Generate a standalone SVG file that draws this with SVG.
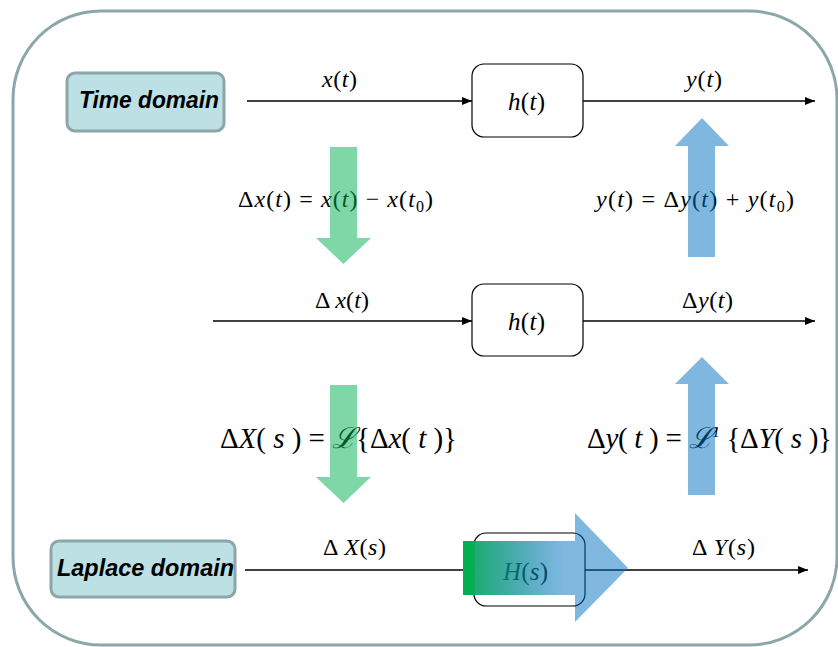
<svg xmlns="http://www.w3.org/2000/svg" width="838" height="647" viewBox="0 0 838 647">
<style>
.lbl{font-family:"Liberation Sans",Arial,sans-serif;font-weight:bold;font-style:italic;fill:#000}
.m{font-family:"Liberation Serif","Times New Roman",Times,serif;fill:#000}
.i{font-style:italic}
.conn{stroke:#000;stroke-width:1.3;fill:none}
.dom{fill:#bce0e3;stroke:#8ca6aa;stroke-width:3}
.blk{fill:#fff;stroke:#000;stroke-width:1.2}
.g{fill:#00b050;fill-opacity:0.5}
.b{fill:#0070c0;fill-opacity:0.5}
</style>
<defs>
<marker id="ah" markerUnits="userSpaceOnUse" markerWidth="10" markerHeight="8" refX="10" refY="4" orient="auto">
<path d="M0,0 L10,4 L0,8 z" fill="#000"/>
</marker>
<linearGradient id="grad" x1="463" y1="0" x2="628" y2="0" gradientUnits="userSpaceOnUse">
<stop offset="0" stop-color="#00b050" stop-opacity="1"/>
<stop offset="0.06" stop-color="#00b050" stop-opacity="1"/>
<stop offset="0.065" stop-color="#10a868" stop-opacity="0.95"/>
<stop offset="0.6" stop-color="#0070c0" stop-opacity="0.5"/>
<stop offset="1" stop-color="#0070c0" stop-opacity="0.5"/>
</linearGradient>
</defs>
<rect x="0" y="0" width="838" height="647" fill="#fff"/>
<rect id="frame" x="13" y="11" width="824" height="634" rx="88" ry="88" fill="none" stroke="#8ca6aa" stroke-width="3"/>

<g id="time-domain">
<rect class="dom" x="67" y="73" width="157" height="58" rx="8"/>
<text class="lbl" x="79" y="108" font-size="23" textLength="140" lengthAdjust="spacingAndGlyphs">Time domain</text>
</g>
<g id="laplace-domain">
<rect class="dom" x="51" y="541" width="184" height="56" rx="8"/>
<text class="lbl" x="57" y="576" font-size="23" textLength="177" lengthAdjust="spacingAndGlyphs">Laplace domain</text>
</g>

<g id="h1">
<rect class="blk" x="472" y="64" width="111" height="73" rx="12"/>
<text class="m" x="508" y="110" font-size="25" textLength="37"><tspan class="i">h</tspan>(<tspan class="i">t</tspan>)</text>
</g>
<g id="h2">
<rect class="blk" x="472" y="284" width="111" height="72" rx="12"/>
<text class="m" x="508" y="330" font-size="25" textLength="37"><tspan class="i">h</tspan>(<tspan class="i">t</tspan>)</text>
</g>
<g id="H3">
<rect class="blk" x="474" y="533" width="111" height="73" rx="12"/>
<text class="m" x="503" y="580" font-size="25" textLength="45"><tspan class="i">H</tspan>(<tspan class="i">s</tspan>)</text>
</g>

<g id="connectors">
<line class="conn" x1="247" y1="101" x2="472" y2="101" marker-end="url(#ah)"/>
<line class="conn" x1="583" y1="101" x2="815" y2="101" marker-end="url(#ah)"/>
<line class="conn" x1="213" y1="321" x2="472" y2="321" marker-end="url(#ah)"/>
<line class="conn" x1="583" y1="321" x2="815" y2="321" marker-end="url(#ah)"/>
<line class="conn" x1="245" y1="570" x2="474" y2="570" marker-end="url(#ah)"/>
<line class="conn" x1="585" y1="570" x2="808" y2="570" marker-end="url(#ah)"/>
</g>

<g id="labels">
<text class="m" x="322" y="87" font-size="24" textLength="35"><tspan class="i">x</tspan>(<tspan class="i">t</tspan>)</text>
<text class="m" x="686" y="87" font-size="24" textLength="36"><tspan class="i">y</tspan>(<tspan class="i">t</tspan>)</text>
<text class="m" x="315" y="308" font-size="24" textLength="54">Δ <tspan class="i">x</tspan>(<tspan class="i">t</tspan>)</text>
<text class="m" x="682" y="308" font-size="24" textLength="51">Δ<tspan class="i">y</tspan>(<tspan class="i">t</tspan>)</text>
<text class="m" x="323" y="555" font-size="24" textLength="63">Δ <tspan class="i">X</tspan>(<tspan class="i">s</tspan>)</text>
<text class="m" x="692" y="555" font-size="24" textLength="63">Δ <tspan class="i">Y</tspan>(<tspan class="i">s</tspan>)</text>
</g>

<g id="equations">
<text class="m" x="238" y="207" font-size="24" textLength="195">Δ<tspan class="i">x</tspan>(<tspan class="i">t</tspan>) = <tspan class="i">x</tspan>(<tspan class="i">t</tspan>) − <tspan class="i">x</tspan>(<tspan class="i">t</tspan><tspan font-size="16" dy="5">0</tspan><tspan dy="-5">)</tspan></text>
<text class="m" x="596" y="207" font-size="24" textLength="198"><tspan class="i">y</tspan>(<tspan class="i">t</tspan>) = Δ<tspan class="i">y</tspan>(<tspan class="i">t</tspan>) + <tspan class="i">y</tspan>(<tspan class="i">t</tspan><tspan font-size="16" dy="5">0</tspan><tspan dy="-5">)</tspan></text>
<text class="m" x="220" y="448" font-size="29" textLength="237">Δ<tspan class="i">X</tspan>( <tspan class="i">s</tspan> ) = <tspan class="i">ℒ</tspan>{Δ<tspan class="i">x</tspan>( <tspan class="i">t</tspan> )}</text>
<text class="m" x="587" y="448" font-size="29" textLength="245">Δ<tspan class="i">y</tspan>( <tspan class="i">t</tspan> ) = <tspan class="i">ℒ</tspan><tspan class="i" font-size="15" dy="-11">1</tspan><tspan dy="11"> {Δ</tspan><tspan class="i">Y</tspan>( <tspan class="i">s</tspan> )}</text>
</g>

<g id="arrows">
<path class="g" d="M330,147 H357 V238 H371 L343.5,264 L316,238 H330 Z"/>
<path class="g" d="M330,385 H357 V477 H371 L343.5,503 L316,477 H330 Z"/>
<path class="b" d="M688,257 H715 V146 H729 L702,118 L675,146 H688 Z"/>
<path class="b" d="M688,495 H715 V384 H729 L702,357 L675,384 H688 Z"/>
<path fill="url(#grad)" d="M463,541 H575 V513 L628,568 L575,622 V595 H463 Z"/>
</g>
</svg>
